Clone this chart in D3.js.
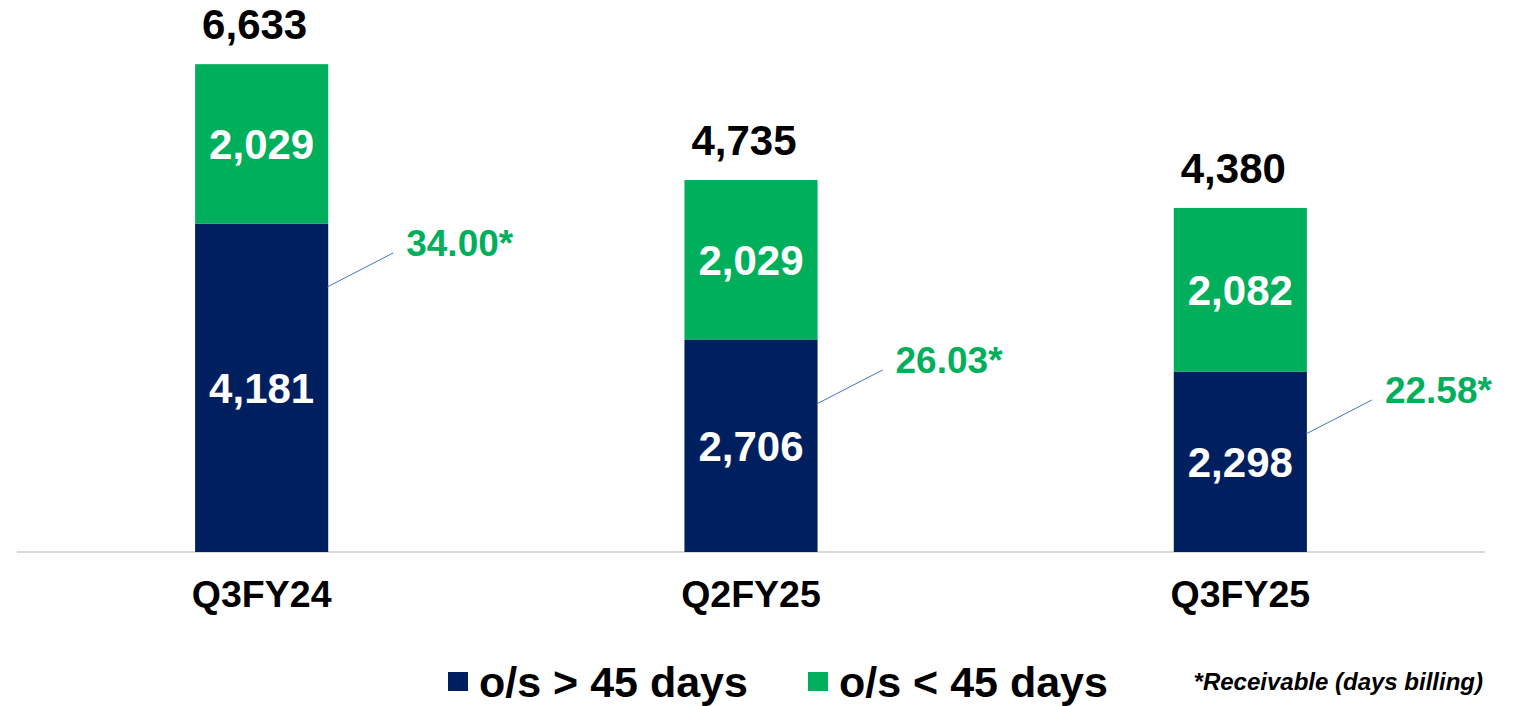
<!DOCTYPE html>
<html>
<head>
<meta charset="utf-8">
<script src="https://cdn.jsdelivr.net/npm/d3@7"></script>
<style>
  body { margin: 0; background: #fff; }
  svg { display: block; font-family: "Liberation Sans", Arial, sans-serif; font-weight: bold; }
</style>
</head>
<body>
<div id="chart"></div>
<script>
// quarters and values
const quarters = ["Q3FY24", "Q2FY25", "Q3FY25"];
const over45 = [4181, 2706, 2298];
const under45 = [2029, 2029, 2082];
const totals = [6633, 4735, 4380];
const daysBilling = ["34.00*", "26.03*", "22.58*"];
// where the callout leaves the bar (in value units)
const calloutAt = [3374, 1884, 1502];

const W = 1516, H = 706;
const navy = "#001F5E", green = "#00AF5B";

const svg = d3.select("#chart").append("svg")
    .attr("width", W)
    .attr("height", H);

const x = d3.scaleBand()
    .domain(quarters)
    .range([17, 1485])
    .paddingInner(0.728)
    .paddingOuter(0.364);

const y = d3.scaleLinear()
    .domain([0, 7027])
    .range([552, 0]);

const data = quarters.map((q, i) => ({ q, lo: over45[i], hi: under45[i], total: totals[i], days: daysBilling[i], at: calloutAt[i] }));

// baseline
svg.append("line")
    .attr("x1", x.range()[0]).attr("x2", x.range()[1])
    .attr("y1", y(0)).attr("y2", y(0))
    .attr("stroke", "#d9d9d9")
    .attr("stroke-width", 2);

// blue segment
svg.selectAll(".lo")
    .data(data)
    .enter()
    .append("rect")
    .attr("class", "lo")
    .attr("x", d => x(d.q))
    .attr("y", d => y(d.lo))
    .attr("width", x.bandwidth())
    .attr("height", d => y(0) - y(d.lo))
    .attr("fill", navy);

// green segment
svg.selectAll(".hi")
    .data(data)
    .enter()
    .append("rect")
    .attr("class", "hi")
    .attr("x", d => x(d.q))
    .attr("y", d => y(d.lo + d.hi))
    .attr("width", x.bandwidth())
    .attr("height", d => y(d.lo) - y(d.lo + d.hi))
    .attr("fill", green);

const fmt = d3.format(",");

svg.selectAll(".lo-label")
    .data(data)
    .enter()
    .append("text")
    .attr("x", d => x(d.q) + x.bandwidth() / 2)
    .attr("y", d => (y(0) + y(d.lo)) / 2)
    .attr("dy", "0.36em")
    .attr("text-anchor", "middle")
    .attr("fill", "#fff")
    .style("font-size", "42px")
    .text(d => fmt(d.lo));

svg.selectAll(".hi-label")
    .data(data)
    .enter()
    .append("text")
    .attr("x", d => x(d.q) + x.bandwidth() / 2)
    .attr("y", d => (y(d.lo) + y(d.lo + d.hi)) / 2)
    .attr("dy", "0.36em")
    .attr("text-anchor", "middle")
    .attr("fill", "#fff")
    .style("font-size", "42px")
    .text(d => fmt(d.hi));

// totals on top
svg.selectAll(".total")
    .data(data)
    .enter()
    .append("text")
    .attr("x", d => x(d.q) + x.bandwidth() / 2 - 7)
    .attr("y", d => y(d.lo + d.hi) - 25)
    .attr("text-anchor", "middle")
    .attr("fill", "#000")
    .style("font-size", "42px")
    .text(d => fmt(d.total));

// callouts for days billing
const call = svg.selectAll(".callout")
    .data(data)
    .enter()
    .append("g");

call.append("line")
    .attr("x1", d => x(d.q) + x.bandwidth() - 1)
    .attr("y1", d => y(d.at))
    .attr("x2", d => x(d.q) + x.bandwidth() + 65)
    .attr("y2", d => y(d.at) - 34)
    .attr("stroke", "#4472C4")
    .attr("stroke-width", 1);

call.append("text")
    .attr("x", d => x(d.q) + x.bandwidth() + 78)
    .attr("y", d => y(d.at) - 44)
    .attr("dy", "0.36em")
    .attr("fill", green)
    .style("font-size", "37px")
    .text(d => d.days);

// category labels
svg.selectAll(".cat")
    .data(quarters)
    .enter()
    .append("text")
    .attr("x", d => x(d) + x.bandwidth() / 2)
    .attr("y", 607)
    .attr("text-anchor", "middle")
    .attr("fill", "#000")
    .style("font-size", "37.5px")
    .text(d => d);

// legend
const legendItems = [
    { label: "o/s > 45 days", color: navy, x: 448 },
    { label: "o/s < 45 days", color: green, x: 808 }
];
const lg = svg.selectAll(".legend")
    .data(legendItems)
    .enter()
    .append("g");
lg.append("rect")
    .attr("x", d => d.x)
    .attr("y", 672)
    .attr("width", 20)
    .attr("height", 19)
    .attr("fill", d => d.color);
lg.append("text")
    .attr("x", d => d.x + 31)
    .attr("y", 697)
    .attr("fill", "#000")
    .style("font-size", "43px")
    .text(d => d.label);

svg.append("text")
    .attr("x", 1483)
    .attr("y", 690)
    .attr("text-anchor", "end")
    .attr("fill", "#000")
    .style("font-size", "24px")
    .style("font-style", "italic")
    .text("*Receivable (days billing)");
</script>
</body>
</html>
